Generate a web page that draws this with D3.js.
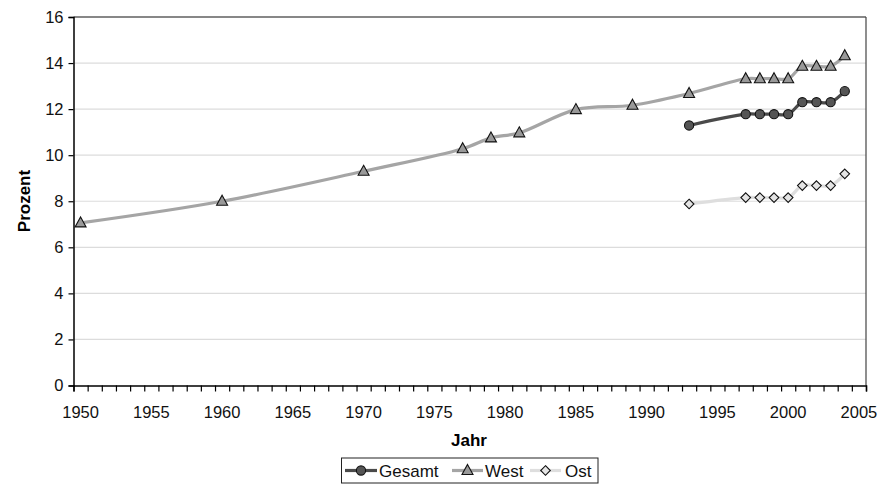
<!DOCTYPE html>
<html><head><meta charset="utf-8">
<script src="https://cdn.jsdelivr.net/npm/d3@7"></script>
<style>body{margin:0;background:#fff}svg{display:block}text{font-family:"Liberation Sans",Arial,sans-serif}</style>
</head><body>
<svg id="c" width="892" height="484"></svg>
<script>
const westYears = [1950,1960,1970,1977,1979,1981,1985,1989,1993,1997,1998,1999,2000,2001,2002,2003,2004];
const westValues = [7.06,8.0,9.3,10.28,10.75,10.97,11.98,12.17,12.68,13.32,13.32,13.32,13.32,13.86,13.86,13.86,14.32];
const gesamtYears = [1993,1997,1998,1999,2000,2001,2002,2003,2004];
const gesamtValues = [11.29,11.78,11.78,11.78,11.78,12.3,12.3,12.3,12.78];
const ostYears = [1993,1997,1998,1999,2000,2001,2002,2003,2004];
const ostValues = [7.88,8.16,8.16,8.16,8.16,8.68,8.68,8.68,9.19];
const yTicks = [0,2,4,6,8,10,12,14,16];
const xLabelYears = [1950,1955,1960,1965,1970,1975,1980,1985,1990,1995,2000,2005];

const svg = d3.select("#c");
const L = 73.5, R = 866, T = 17, B = 385.5;
const x = d3.scaleLinear().domain([1949.5, 2005.5]).range([L, R]);
const y = d3.scaleLinear().domain([0, 16]).range([B, T]);

// gridlines
svg.append("g").selectAll("line").data(yTicks.filter(d=>d>0 && d<16)).join("line")
  .attr("x1", L).attr("x2", R).attr("y1", d=>y(d)).attr("y2", d=>y(d))
  .attr("stroke", "#dcdcdc").attr("stroke-width", 1.2);
// plot border
svg.append("line").attr("x1", L).attr("x2", R).attr("y1", T).attr("y2", T).attr("stroke", "#111").attr("stroke-width", 1.2);
svg.append("line").attr("x1", R).attr("x2", R).attr("y1", T).attr("y2", B).attr("stroke", "#444").attr("stroke-width", 1.2);

// y axis
const ya = svg.append("g").attr("transform", `translate(${L},0)`)
  .call(d3.axisLeft(y).tickValues(yTicks).tickSize(5).tickPadding(5).tickFormat(d3.format("d")));
ya.select(".domain").attr("stroke", "#000").attr("stroke-width", 1.5);
ya.selectAll(".tick line").attr("stroke", "#000").attr("stroke-width", 1.2);
ya.selectAll("text").attr("font-size", 16.5).attr("fill", "#111").attr("font-family", '"Liberation Sans",Arial,sans-serif');

// x axis: ticks between categories, labels at category centres
const tickPos = d3.range(1949.5, 2005.6, 1);
const xa = svg.append("g").attr("transform", `translate(0,${B})`)
  .call(d3.axisBottom(x).tickValues(tickPos).tickSize(6).tickFormat(""));
xa.select(".domain").attr("stroke", "#000").attr("stroke-width", 1.5);
xa.selectAll(".tick line").attr("stroke", "#000").attr("stroke-width", 1.2);
svg.append("g").selectAll("text").data(xLabelYears).join("text")
  .attr("x", d=>x(d)).attr("y", 418).attr("text-anchor", "middle")
  .attr("font-size", 16.5).attr("fill", "#111").text(d=>d);

// axis titles
svg.append("text").attr("x", 469).attr("y", 446).attr("text-anchor", "middle")
  .attr("font-size", 17).attr("font-weight", "bold").text("Jahr");
svg.append("text").attr("transform", "translate(30,201) rotate(-90)").attr("text-anchor", "middle")
  .attr("font-size", 17).attr("font-weight", "bold").text("Prozent");

const line = d3.line().x(d=>x(d[0])).y(d=>y(d[1])).curve(d3.curveCatmullRom.alpha(0.5));
const series = [
  {name:"Gesamt", years:gesamtYears, values:gesamtValues, color:"#4a4a4a", fill:"#555", shape:"circle"},
  {name:"West", years:westYears, values:westValues, color:"#a5a5a5", fill:"#999", shape:"triangle"},
  {name:"Ost", years:ostYears, values:ostValues, color:"#dedede", fill:"#e4e4e4", shape:"diamond"}
];
function marker(g, s, cx, cy) {
  if (s.shape === "circle") {
    g.append("circle").attr("cx", cx).attr("cy", cy).attr("r", 4.6)
      .attr("fill", s.fill).attr("stroke", "#111").attr("stroke-width", 1.1);
  } else if (s.shape === "triangle") {
    g.append("path").attr("d", `M${cx},${cy-6}L${cx+5.5},${cy+4}L${cx-5.5},${cy+4}Z`)
      .attr("fill", s.fill).attr("stroke", "#111").attr("stroke-width", 1.1);
  } else {
    g.append("path").attr("d", `M${cx},${cy-4.8}L${cx+4.8},${cy}L${cx},${cy+4.8}L${cx-4.8},${cy}Z`)
      .attr("fill", s.fill).attr("stroke", "#111").attr("stroke-width", 1.1);
  }
}
// draw order: Ost, West, Gesamt
[series[2], series[1], series[0]].forEach(s => {
  const pts = s.years.map((yr,i)=>[yr, s.values[i]]);
  svg.append("path").datum(pts).attr("d", line).attr("fill", "none")
    .attr("stroke", s.color).attr("stroke-width", 3.2);
  const g = svg.append("g");
  pts.forEach(p => marker(g, s, x(p[0]), y(p[1])));
});

// legend
svg.append("rect").attr("x", 341.5).attr("y", 458).attr("width", 256.5).attr("height", 25)
  .attr("fill", "#fff").attr("stroke", "#222").attr("stroke-width", 1);
const leg = [
  {s:series[0], x0:345, x1:377, tx:379},
  {s:series[1], x0:452, x1:483, tx:485},
  {s:series[2], x0:530, x1:561, tx:565}
];
leg.forEach(l => {
  const g = svg.append("g");
  g.append("line").attr("x1", l.x0).attr("x2", l.x1).attr("y1", 470.5).attr("y2", 470.5)
    .attr("stroke", l.s.color).attr("stroke-width", 3.2);
  marker(g, l.s, (l.x0+l.x1)/2, 470.5);
  g.append("text").attr("x", l.tx).attr("y", 477).attr("font-size", 17).attr("fill", "#111").text(l.s.name);
});
</script>
</body></html>
